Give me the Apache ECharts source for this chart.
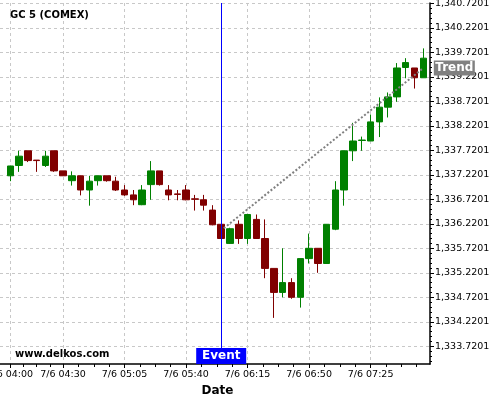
<!DOCTYPE html>
<html><head><meta charset="utf-8">
<script src="https://cdn.jsdelivr.net/npm/echarts@6/dist/echarts.min.js"></script>
<style>html,body{margin:0;padding:0;background:#fff}#c{width:500px;height:400px}</style>
</head><body><div id="c"></div>
<script>
const times = ['04:00','04:05','04:10','04:15','04:20','04:25','04:30','04:35','04:40','04:45','04:50','04:55',
  '05:00','05:05','05:10','05:15','05:20','05:25','05:30','05:35','05:40','05:45','05:50','05:55',
  '06:00','06:05','06:10','06:15','06:20','06:25','06:30','06:35','06:40','06:45','06:50','06:55',
  '07:00','07:05','07:10','07:15','07:20','07:25','07:30','07:35','07:40','07:45','07:50','07:55'];
const opens = [1337.20,1337.41,1337.71,1337.52,1337.41,1337.71,1337.30,1337.10,1337.20,1336.91,
  1337.10,1337.20,1337.09,1336.91,1336.81,1336.61,1337.02,1337.30,1336.91,1336.83,
  1336.91,1336.73,1336.71,1336.50,1336.21,1335.82,1336.21,1335.92,1336.31,1335.92,
  1335.31,1334.82,1335.02,1334.72,1335.51,1335.72,1335.41,1336.11,1336.91,1337.71,
  1337.92,1337.91,1338.30,1338.60,1338.81,1339.41,1339.40,1339.20];
const closes = [1337.40,1337.60,1337.51,1337.51,1337.60,1337.30,1337.20,1337.20,1336.91,1337.09,
  1337.20,1337.10,1336.91,1336.81,1336.71,1336.91,1337.30,1337.02,1336.81,1336.82,
  1336.71,1336.72,1336.60,1336.20,1335.92,1336.12,1335.92,1336.41,1335.92,1335.31,
  1334.82,1335.02,1334.72,1335.51,1335.72,1335.41,1336.21,1336.91,1337.71,1337.91,
  1337.93,1338.30,1338.60,1338.81,1339.40,1339.51,1339.20,1339.60];
const lows = [1337.09,1337.28,1337.48,1337.28,1337.38,1337.28,1337.20,1337.00,1336.80,1336.59,
  1337.00,1337.08,1336.89,1336.79,1336.60,1336.60,1336.71,1337.00,1336.70,1336.70,
  1336.70,1336.49,1336.49,1336.19,1335.92,1335.81,1335.81,1335.81,1335.92,1335.11,
  1334.30,1334.72,1334.69,1334.51,1335.41,1335.22,1335.40,1336.09,1336.59,1337.50,
  1337.71,1337.91,1337.99,1338.39,1338.71,1339.19,1338.98,1339.20];
const highs = [1337.40,1337.71,1337.71,1337.52,1337.71,1337.71,1337.30,1337.29,1337.20,1337.20,
  1337.20,1337.20,1337.18,1337.01,1336.91,1337.01,1337.50,1337.30,1337.01,1336.91,
  1337.01,1336.81,1336.81,1336.60,1336.21,1336.14,1336.29,1336.41,1336.41,1336.31,
  1335.31,1335.72,1335.11,1335.51,1336.02,1335.72,1336.21,1337.09,1337.71,1338.28,
  1338.00,1338.45,1338.80,1338.90,1339.50,1339.60,1339.40,1339.80];
const xTickTimes = ['04:00','04:30','05:05','05:40','06:15','06:50','07:25'];
const xTickLabels = ['7/6 04:00','7/6 04:30','7/6 05:05','7/6 05:40','7/6 06:15','7/6 06:50','7/6 07:25'];
const yTickValues = [1333.7201,1334.2201,1334.7201,1335.2201,1335.7201,1336.2201,1336.7201,
  1337.2201,1337.7201,1338.2201,1338.7201,1339.2201,1339.7201,1340.2201,1340.7201];
const eventTime = '06:00';
const trendX = [24.3, 47];
const trendY = [1336.13, 1339.40];

const FONT = 'DejaVu Sans';
const xMin = -1.17, xMax = 47.76;
const yMin = 1333.359, yMax = 1340.726;
const GRID_W = 430;

const majorX = xTickTimes.map(t => times.indexOf(t));
const labelMap = {};
majorX.forEach((v, i) => { labelMap[v] = xTickLabels[i]; });
const minorX = [];
const mx = majorX.concat([majorX[majorX.length - 1] + 7]);
for (let i = 0; i < mx.length - 1; i++) {
  for (let k = 1; k < 4; k++) minorX.push(mx[i] + (mx[i + 1] - mx[i]) * k / 4);
}
const minorY = [];
for (let i = 0; i < yTickValues.length; i++) {
  for (let k = -4; k < 0; k++) {
    const v = yTickValues[i] + k * 0.1;
    if (v > yMin) minorY.push(v);
  }
}
function fmtY(v) {
  const s = v.toFixed(4);
  const parts = s.split('.');
  return parts[0].replace(/\B(?=(\d{3})+(?!\d))/g, ',') + '.' + parts[1];
}
const eventIdx = times.indexOf(eventTime);
const candles = times.map((t, i) => [i, opens[i], closes[i], lows[i], highs[i]]);

const chart = echarts.init(document.getElementById('c'), null, {renderer: 'canvas'});
chart.setOption({
  animation: false,
  backgroundColor: '#fff',
  title: {text: 'GC 5 (COMEX)', left: 5, top: 5,
    textStyle: {fontSize: 10, fontWeight: 'bold', fontFamily: FONT, color: '#000'}},
  grid: {left: 0, width: GRID_W, top: 3, bottom: 36, containLabel: false, outerBoundsMode: 'none'},
  graphic: [{type: 'text', left: 15, top: 349,
    style: {text: 'www.delkos.com', font: 'bold 10px "DejaVu Sans"', fill: '#000'}}],
  xAxis: [{
    type: 'value', min: xMin, max: xMax, position: 'bottom',
    axisLine: {show: true, onZero: false, lineStyle: {color: '#000', width: 1.5}},
    axisTick: {show: true, customValues: majorX, length: 4, lineStyle: {color: '#000'}},
    axisLabel: {customValues: majorX, formatter: v => labelMap[v] || '', fontSize: 9.5,
      fontFamily: FONT, color: '#000', margin: 6, hideOverlap: false},
    splitLine: {show: true, lineStyle: {type: [3, 3], color: '#c8c8c8'}},
    name: 'Date', nameLocation: 'middle', nameGap: 21,
    nameTextStyle: {fontWeight: 'bold', fontSize: 12, fontFamily: FONT, color: '#000', padding: [0, 0, 0, 5]}
  }, {
    type: 'value', min: xMin, max: xMax, position: 'bottom',
    axisLine: {show: false},
    axisTick: {show: true, customValues: minorX, length: 3, lineStyle: {color: '#000'}},
    axisLabel: {show: false, customValues: minorX},
    splitLine: {show: false}
  }],
  yAxis: [{
    type: 'value', min: yMin, max: yMax, position: 'right',
    axisLine: {show: true, onZero: false, lineStyle: {color: '#000', width: 1.5}},
    axisTick: {show: true, customValues: yTickValues, length: 4, lineStyle: {color: '#000'}},
    axisLabel: {customValues: yTickValues, formatter: fmtY, fontSize: 9.5, fontFamily: FONT,
      color: '#000', margin: 5},
    splitLine: {show: true, lineStyle: {type: [3, 3], color: '#c8c8c8'}}
  }, {
    type: 'value', min: yMin, max: yMax, position: 'left', offset: -GRID_W,
    axisLine: {show: false},
    axisTick: {show: true, inside: true, customValues: minorY, length: 2, lineStyle: {color: '#000'}},
    axisLabel: {show: false, customValues: minorY},
    splitLine: {show: false}
  }],
  series: [{
    type: 'candlestick', xAxisIndex: 0, yAxisIndex: 0, data: candles, barWidth: 7,
    itemStyle: {color: '#008000', color0: '#800000', borderColor: '#008000', borderColor0: '#800000', borderWidth: 1},
    markLine: {silent: true, symbol: ['none', 'none'], label: {show: false},
      lineStyle: {color: '#0000ff', width: 1, type: 'solid'},
      data: [{xAxis: eventIdx}]},
    markPoint: {silent: true, data: [
      {coord: [eventIdx, yMin], symbol: 'rect', symbolSize: [50, 16], symbolOffset: [0, -8],
        itemStyle: {color: '#0000ff'},
        label: {show: true, position: 'inside', formatter: 'Event', color: '#fff', fontWeight: 'bold', fontSize: 12, fontFamily: FONT}},
      {coord: [trendX[1], trendY[1]], symbol: 'rect', symbolSize: [41, 15], symbolOffset: [31, 0],
        itemStyle: {color: '#808080'},
        label: {show: true, position: 'inside', formatter: 'Trend', color: '#fff', fontWeight: 'bold', fontSize: 12, fontFamily: FONT}}
    ]}
  }, {
    type: 'line', xAxisIndex: 0, yAxisIndex: 0, symbol: 'none', silent: true,
    data: trendX.map((x, i) => [x, trendY[i]]),
    lineStyle: {type: 'dotted', color: '#808080', width: 2}
  }]
});
</script></body></html>
